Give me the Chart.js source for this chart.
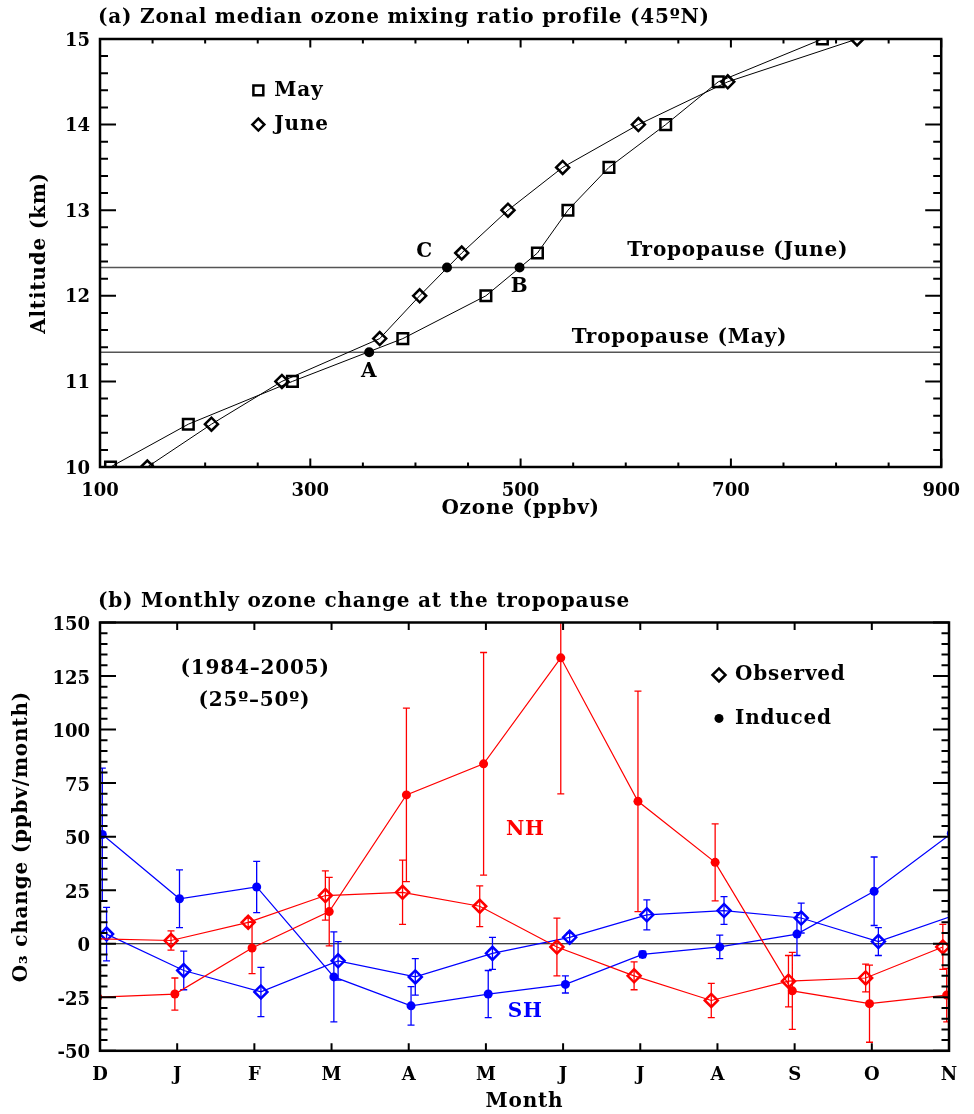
<!DOCTYPE html>
<html>
<head>
<meta charset="utf-8">
<script src="https://cdn.jsdelivr.net/npm/chart.js@4.4.1/dist/chart.umd.min.js"></script>
<style>
  body { margin: 0; background: #fff; }
  .panel { position: absolute; left: 0; width: 974px; }
</style>
</head>
<body>
<div class="panel" style="top:0;height:545px"><canvas id="profileChart"></canvas></div>
<div class="panel" style="top:560px;height:554px"><canvas id="monthlyChart"></canvas></div>
<script>
// (a) zonal median profile, 45N
const altitudes = [10, 10.5, 11, 11.5, 12, 12.5, 13, 13.5, 14, 14.5, 15];
const ozoneMay = [110, 184, 283, 388, 467, 516, 545, 584, 638, 688, 787];
const ozoneJune = [145, 206, 273, 366, 404, 444, 488, 540, 612, 697, 820];
const tropoNames = ['A', 'B', 'C'];
const tropoOzone = [356, 499, 430];
const tropoAltitude = [11.34, 12.33, 12.33];
const tropopauseMay = 11.34;
const tropopauseJune = 12.33;

// (b) monthly change at the tropopause
const months = ['D', 'J', 'F', 'M', 'A', 'M', 'J', 'J', 'A', 'S', 'O', 'N'];
const nhInduced = [-25, -23.5, -2, 15, 69.5, 84, 133.5, 66.5, 38, -22, -28, -24];
const nhInducedErr = [12, 7.5, 12, 16, 40.5, 52, 63.5, 51.5, 18, 18, 18, 12.5];
const nhObserved = [2.3, 1.5, 10, 22.5, 24, 17.5, -1.5, -15, -26.5, -17.5, -16, -1.5];
const nhObservedErr = [4, 4.5, 2, 11.5, 15, 9.5, 13.5, 6.5, 8, 12, 6.5, 10.5];
const shInduced = [51, 21, 26.5, -15.5, -29, -23.5, -19, -5, -1.5, 4.5, 24.5, 51.5];
const shInducedErr = [31, 13.5, 12, 21, 9, 11, 4, 1.5, 5.5, 10, 16, 31];
const shObserved = [4.5, -12.5, -22.5, -8, -15.5, -4.5, 3, 13.5, 15.5, 12, 1, 13.5];
const shObservedErr = [12.5, 9, 11.5, 9, 8.5, 7.5, 2, 7, 6.5, 7, 6.5, 12.5];

const FONT = "'DejaVu Serif', serif";
const TEXT_FONT = 'bold 20px ' + FONT;
Chart.defaults.font.family = FONT;
Chart.defaults.font.size = 18;
Chart.defaults.font.weight = 'bold';
Chart.defaults.color = '#000';
Chart.defaults.animation = false;

// horizontal reference lines (tropopause, zero)
const refLines = {
  id: 'refLines',
  beforeDatasetsDraw(chart, args, opts) {
    const {ctx, chartArea: a, scales: {y}} = chart;
    ctx.save();
    (opts.lines || []).forEach(l => {
      const py = y.getPixelForValue(l.y);
      ctx.strokeStyle = l.color;
      ctx.lineWidth = l.width;
      ctx.beginPath();
      ctx.moveTo(a.left, py);
      ctx.lineTo(a.right, py);
      ctx.stroke();
    });
    ctx.restore();
  }
};

// vertical error bars with caps
const errorBars = {
  id: 'errorBars',
  beforeDatasetsDraw(chart) {
    const {ctx, chartArea: a, scales: {y}} = chart;
    ctx.save();
    ctx.beginPath();
    ctx.rect(a.left, a.top, a.width, a.height);
    ctx.clip();
    chart.data.datasets.forEach((ds, di) => {
      if (!ds.errorBars) return;
      const meta = chart.getDatasetMeta(di);
      ctx.strokeStyle = ds.borderColor;
      ctx.lineWidth = 1.3;
      ctx.beginPath();
      meta.data.forEach((pt, i) => {
        const v = ds.data[i].y, e = ds.errorBars[i];
        const top = y.getPixelForValue(v + e);
        const bot = y.getPixelForValue(v - e);
        ctx.moveTo(pt.x, top); ctx.lineTo(pt.x, bot);
        ctx.moveTo(pt.x - 3.5, top); ctx.lineTo(pt.x + 3.5, top);
        ctx.moveTo(pt.x - 3.5, bot); ctx.lineTo(pt.x + 3.5, bot);
      });
      ctx.stroke();
    });
    ctx.restore();
  }
};

// box frame with inward major/minor ticks on all four sides
const frameTicks = {
  id: 'frameTicks',
  afterDatasetsDraw(chart, args, o) {
    const {ctx, chartArea: a, scales: {x, y}} = chart;
    ctx.save();
    ctx.strokeStyle = '#000';
    ctx.lineWidth = 2;
    ctx.beginPath();
    const xTick = (v, len) => {
      const px = x.getPixelForValue(v);
      ctx.moveTo(px, a.bottom); ctx.lineTo(px, a.bottom - len);
      ctx.moveTo(px, a.top); ctx.lineTo(px, a.top + len);
    };
    const yTick = (v, len) => {
      const py = y.getPixelForValue(v);
      ctx.moveTo(a.left, py); ctx.lineTo(a.left + len, py);
      ctx.moveTo(a.right, py); ctx.lineTo(a.right - len, py);
    };
    if (o.xMinor) for (let v = x.min; v <= x.max + 1e-9; v += o.xMinor) xTick(v, o.xLen[1]);
    if (o.yMinor) for (let v = y.min; v <= y.max + 1e-9; v += o.yMinor) yTick(v, o.yLen[1]);
    x.ticks.forEach(t => xTick(t.value, o.xLen[0]));
    y.ticks.forEach(t => yTick(t.value, o.yLen[0]));
    ctx.stroke();
    ctx.lineWidth = 2.5;
    ctx.strokeRect(a.left, a.top, a.width, a.height);
    ctx.restore();
  }
};

// panel title, axis titles, free text and the hand-made marker legends
const notes = {
  id: 'notes',
  afterDraw(chart, args, o) {
    const {ctx, chartArea: a, scales: {x, y}} = chart;
    ctx.save();
    ctx.font = TEXT_FONT;
    ctx.letterSpacing = '0.8px';
    ctx.textBaseline = 'middle';
    ctx.fillStyle = '#000';
    ctx.textAlign = 'left';
    ctx.fillText(o.title, a.left - 2, a.top - o.titleGap);

    ctx.textAlign = 'center';
    ctx.fillText(o.xTitle, (a.left + a.right) / 2, a.bottom + o.xTitleGap);
    ctx.save();
    ctx.translate(o.yTitleX, (a.top + a.bottom) / 2);
    ctx.rotate(-Math.PI / 2);
    ctx.fillText(o.yTitle, 0, 0);
    ctx.restore();

    (o.items || []).forEach(n => {
      ctx.fillStyle = n.color || '#000';
      ctx.textAlign = 'center';
      ctx.fillText(n.text, x.getPixelForValue(n.x), y.getPixelForValue(n.y));
    });
    (o.legend || []).forEach(k => {
      const px = x.getPixelForValue(k.x), py = y.getPixelForValue(k.y);
      ctx.strokeStyle = '#000';
      ctx.fillStyle = k.filled ? '#000' : 'rgba(0,0,0,0)';
      ctx.lineWidth = 2.5;
      Chart.helpers.drawPoint(ctx, {pointStyle: k.style, radius: k.radius, borderWidth: k.filled ? 0 : 2.5, rotation: 0}, px, py);
      ctx.fillStyle = '#000';
      ctx.textAlign = 'left';
      ctx.fillText(k.text, px + 16, py);
    });
    // labels next to points of a dataset
    (o.pointLabels || []).forEach(p => {
      const meta = chart.getDatasetMeta(p.dataset);
      meta.data.forEach((pt, i) => {
        ctx.fillStyle = '#000';
        ctx.textAlign = 'center';
        ctx.fillText(p.names[i], pt.x + p.offsets[i][0], pt.y + p.offsets[i][1]);
      });
    });
    ctx.restore();
  }
};

const hiddenGrid = { display: false, drawTicks: false };

new Chart(document.getElementById('profileChart'), {
  type: 'line',
  data: {
    datasets: [
      {
        label: 'May',
        data: altitudes.map((alt, i) => ({x: ozoneMay[i], y: alt})),
        borderColor: '#000', borderWidth: 1, tension: 0,
        pointStyle: 'rect', pointRadius: 7.5, pointBorderWidth: 2.5,
        pointBackgroundColor: 'rgba(0,0,0,0)', clip: 0
      },
      {
        label: 'June',
        data: altitudes.map((alt, i) => ({x: ozoneJune[i], y: alt})),
        borderColor: '#000', borderWidth: 1, tension: 0,
        pointStyle: 'rectRot', pointRadius: 6.5, pointBorderWidth: 2.5,
        pointBackgroundColor: 'rgba(0,0,0,0)', clip: 0
      },
      {
        label: 'Tropopause',
        data: tropoOzone.map((o, i) => ({x: o, y: tropoAltitude[i]})),
        showLine: false, borderColor: '#000',
        pointStyle: 'circle', pointRadius: 5, pointBackgroundColor: '#000', pointBorderWidth: 0
      }
    ]
  },
  plugins: [refLines, frameTicks, notes],
  options: {
    responsive: true,
    maintainAspectRatio: false,
    layout: { padding: { left: 25, right: 27, top: 39, bottom: 0 } },
    plugins: {
      legend: { display: false },
      tooltip: { enabled: false },
      refLines: { lines: [
        { y: tropopauseJune, color: '#555', width: 1.5 },
        { y: tropopauseMay, color: '#555', width: 1.5 }
      ] },
      frameTicks: { xMinor: 50, yMinor: 0.2, xLen: [8.5, 4.5], yLen: [16, 8] },
      notes: {
        title: '(a) Zonal median ozone mixing ratio profile (45ºN)',
        titleGap: 21,
        xTitle: 'Ozone (ppbv)', xTitleGap: 42,
        yTitle: 'Altitude (km)', yTitleX: 40,
        items: [
          { text: 'Tropopause (June)', x: 706.5, y: 12.53 },
          { text: 'Tropopause (May)', x: 651, y: 11.515 }
        ],
        legend: [
          { style: 'rect', radius: 7, text: 'May', x: 250.6, y: 14.4 },
          { style: 'rectRot', radius: 6, text: 'June', x: 250.6, y: 14.0 }
        ],
        pointLabels: [
          { dataset: 2, names: tropoNames, offsets: [[0, 20], [0, 19.5], [-22.5, -15.5]] }
        ]
      }
    },
    scales: {
      x: {
        type: 'linear', min: 100, max: 900,
        ticks: { stepSize: 200, padding: 14, maxRotation: 0 },
        grid: hiddenGrid, border: { display: false },
        afterFit: s => { s.height = 78; }
      },
      y: {
        type: 'linear', min: 10, max: 15,
        ticks: { stepSize: 1, padding: 10, labelOffset: 2 },
        grid: hiddenGrid, border: { display: false },
        afterFit: s => { s.width = 75; }
      }
    }
  }
});

// small sideways shifts so the four series do not overlap at each month
const shift = { nhObs: -0.08, nhInd: -0.03, shInd: 0.03, shObs: 0.085 };
const RED = '#ff0000', BLUE = '#0000ff';

function monthSeries(values, errs, dx, color, style, radius, filled) {
  return {
    data: values.map((v, i) => ({x: i + dx, y: v})),
    errorBars: errs,
    borderColor: color, borderWidth: 1.2, tension: 0,
    pointStyle: style, pointRadius: radius,
    pointBorderColor: color, pointBorderWidth: filled ? 0 : 2.5,
    pointBackgroundColor: filled ? color : 'rgba(0,0,0,0)',
    clip: 0
  };
}

new Chart(document.getElementById('monthlyChart'), {
  type: 'line',
  data: {
    datasets: [
      monthSeries(nhInduced, nhInducedErr, shift.nhInd, RED, 'circle', 4.5, true),
      monthSeries(nhObserved, nhObservedErr, shift.nhObs, RED, 'rectRot', 6.5, false),
      monthSeries(shInduced, shInducedErr, shift.shInd, BLUE, 'circle', 4.5, true),
      monthSeries(shObserved, shObservedErr, shift.shObs, BLUE, 'rectRot', 6.5, false)
    ]
  },
  plugins: [refLines, errorBars, frameTicks, notes],
  options: {
    responsive: true,
    maintainAspectRatio: false,
    layout: { padding: { left: 8, right: 25, top: 62.5, bottom: 0 } },
    plugins: {
      legend: { display: false },
      tooltip: { enabled: false },
      refLines: { lines: [{ y: 0, color: '#000', width: 1.2 }] },
      frameTicks: { xMinor: 0, yMinor: 5, xLen: [7.5, 0], yLen: [16, 7.5] },
      notes: {
        title: '(b) Monthly ozone change at the tropopause',
        titleGap: 20.5,
        xTitle: 'Month', xTitleGap: 51,
        yTitle: 'O₃ change (ppbv/month)', yTitleX: 22,
        items: [
          { text: '(1984–2005)', x: 2.01, y: 128.3 },
          { text: '(25º–50º)', x: 2.0, y: 113.4 },
          { text: 'NH', x: 5.51, y: 53.4, color: RED },
          { text: 'SH', x: 5.51, y: -31.7, color: BLUE }
        ],
        legend: [
          { style: 'rectRot', radius: 6.5, text: 'Observed', x: 8.02, y: 125.5 },
          { style: 'circle', radius: 4.5, text: 'Induced', x: 8.02, y: 105.2, filled: true }
        ]
      }
    },
    scales: {
      x: {
        type: 'linear', min: 0, max: 11,
        ticks: { stepSize: 1, padding: 13.4, maxRotation: 0, autoSkip: false, callback: v => months[v] },
        grid: hiddenGrid, border: { display: false },
        afterFit: s => { s.height = 63.2; }
      },
      y: {
        type: 'linear', min: -50, max: 150,
        ticks: { stepSize: 25, padding: 10, labelOffset: 3 },
        grid: hiddenGrid, border: { display: false },
        afterFit: s => { s.width = 92; }
      }
    }
  }
});
</script>
</body>
</html>
